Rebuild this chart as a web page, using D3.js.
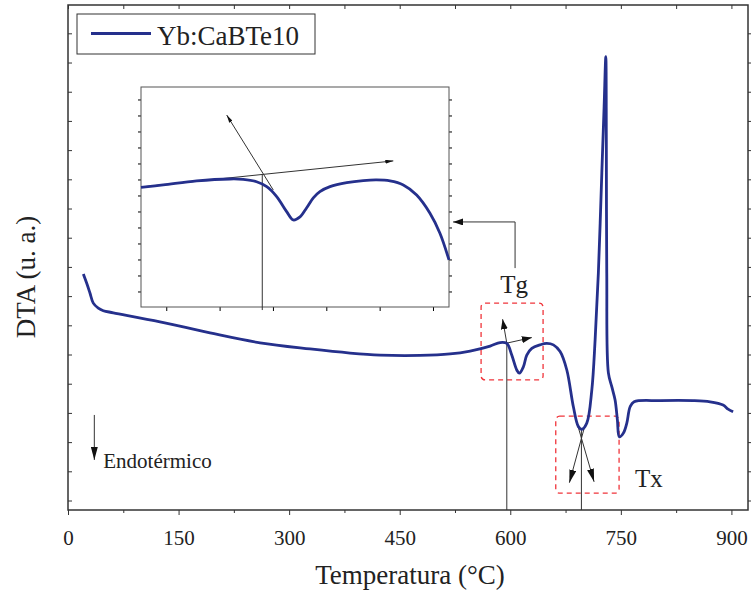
<!DOCTYPE html>
<html>
<head>
<meta charset="utf-8">
<script src="https://cdn.jsdelivr.net/npm/d3@7"></script>
<style>
  body { margin: 0; background: #fff; }
  text { font-family: 'Liberation Serif', 'Times New Roman', serif; fill: #222; }
</style>
</head>
<body>
<script>
// main DTA curve, temperature (°C) and signal (arbitrary units)
const temps = [20.8, 25.4, 29.9, 34.3, 41.1, 47.9, 61.5, 124.8, 192.7, 260.5, 328.4, 382.6, 423.3, 477.6, 518.3,
  545.5, 572.7, 586.2, 595.3,
  602.0, 608.8, 612.3, 617.8, 622.4, 629.2, 640.4, 649.5, 658.5, 667.6, 676.7, 685.6, 692.4, 697.0, 703.8, 710.6,
  715.1, 719.5, 724.2, 727.3, 729.6, 730.3, 730.9, 733.1, 737.7, 742.2, 745.3, 748.0, 753.5, 758.1, 762.6, 768.0,
  803.3, 848.0, 871.1, 888.7, 895.5, 902.3]
const dta = [7.76, 7.44, 7.10, 6.76, 6.59, 6.50, 6.43, 6.12, 5.74, 5.40, 5.19, 5.05, 4.98, 4.97, 5.02,
  5.12, 5.29, 5.41, 5.38,
  4.98, 4.47, 4.36, 4.58, 4.98, 5.21, 5.33, 5.38, 5.33, 5.10, 4.47, 3.21, 2.53, 2.44, 2.65, 3.78,
  5.50, 7.79, 11.22, 13.49, 15.20, 12.35, 7.79, 4.37, 3.90, 3.44, 2.76, 2.18, 2.31, 2.65, 3.21, 3.38,
  3.42, 3.42, 3.38, 3.27, 3.13, 3.04]

// inset: zoom around the glass transition
const insetTemps = [525.8, 538.3, 557.1, 575.8, 583.3, 590.8, 596.5, 602.1, 607.7, 611.4, 615.2, 618.9, 622.7, 626.4,
  632.1, 641.5, 650.8, 658.3, 665.8, 673.3, 680.8, 688.3, 693.9, 699.0]
const insetDta = [6.51, 6.66, 6.91, 7.03, 7.01, 6.86, 6.55, 5.93, 4.99, 4.47, 4.66, 5.22, 5.85, 6.24,
  6.55, 6.80, 6.93, 6.97, 6.91, 6.66, 6.03, 4.89, 3.64, 1.97]

const xTicks = [0, 150, 300, 450, 600, 750, 900]
const xMinor = [75, 225, 375, 525, 675, 825]
const seriesName = 'Yb:CaBTe10'
const tg = 595.3
const tx = 696.5

const width = 752
const height = 597
const blue = '#25308c'
const red = '#f0353b'

const svg = d3.select('body').append('svg')
  .attr('width', width)
  .attr('height', height)

// arrowheads
const defs = svg.append('defs')
function marker (id, len, wid) {
  defs.append('marker')
    .attr('id', id)
    .attr('markerUnits', 'userSpaceOnUse')
    .attr('viewBox', '0 0 ' + len + ' ' + wid)
    .attr('refX', len).attr('refY', wid / 2)
    .attr('markerWidth', len).attr('markerHeight', wid)
    .attr('orient', 'auto')
    .append('path')
    .attr('d', 'M0,0L' + len + ',' + wid / 2 + 'L0,' + wid + 'Z')
    .attr('fill', '#111')
}
marker('big', 13, 7)
marker('mid', 10, 7)
marker('small', 8, 4)

const x = d3.scaleLinear().domain([0, 922.5]).range([68, 748])
const y = d3.scaleLinear().domain([-0.325, 16.97]).range([510, 5])

// axes
svg.append('g')
  .attr('transform', 'translate(0,510)')
  .call(d3.axisBottom(x).tickValues(xTicks).tickSize(5).tickSizeOuter(0).tickPadding(15))
  .call(g => g.select('.domain').remove())
  .call(g => g.selectAll('text').attr('font-size', 21).attr('font-family', null))
svg.append('g')
  .attr('transform', 'translate(0,510)')
  .call(d3.axisBottom(x).tickValues(xMinor).tickSize(3).tickFormat(''))
  .call(g => g.select('.domain').remove())
svg.append('g')
  .attr('transform', 'translate(0,5)')
  .call(d3.axisTop(x).tickValues(xTicks.concat(xMinor)).tickSize(-4).tickFormat(''))
  .call(g => g.select('.domain').remove())
svg.append('g')
  .attr('transform', 'translate(68,0)')
  .call(d3.axisLeft(y).tickValues(d3.range(0, 17)).tickSize(-4).tickFormat(''))
  .call(g => g.select('.domain').remove())
svg.append('g')
  .attr('transform', 'translate(748,0)')
  .call(d3.axisRight(y).tickValues(d3.range(0, 17)).tickSize(3).tickFormat(''))
  .call(g => g.select('.domain').remove())
svg.selectAll('.tick line').attr('stroke', '#333')

svg.append('rect')
  .attr('x', 68).attr('y', 5).attr('width', 680).attr('height', 505)
  .attr('fill', 'none').attr('stroke', '#333').attr('stroke-width', 1.5)

// axis titles
svg.append('text')
  .attr('x', 410).attr('y', 584)
  .attr('text-anchor', 'middle')
  .attr('font-size', 27)
  .text('Temperatura (°C)')
svg.append('text')
  .attr('transform', 'translate(35,277) rotate(-90)')
  .attr('text-anchor', 'middle')
  .attr('font-size', 27)
  .text('DTA (u. a.)')

function seg (p, q, mk, sc) {
  sc = sc || { x: x, y: y }
  const l = svg.append('line')
    .attr('x1', sc.x(p[0])).attr('y1', sc.y(p[1]))
    .attr('x2', sc.x(q[0])).attr('y2', sc.y(q[1]))
    .attr('stroke', '#333').attr('stroke-width', 1)
  if (mk) l.attr('marker-end', 'url(#' + mk + ')')
  return l
}
function box (t0, t1, u0, u1) {
  svg.append('rect')
    .attr('x', x(t0)).attr('y', y(u0))
    .attr('width', x(t1) - x(t0)).attr('height', y(u1) - y(u0))
    .attr('rx', 4)
    .attr('fill', 'none').attr('stroke', red)
    .attr('stroke-width', 1.3).attr('stroke-dasharray', '5,4')
}

// Tg marker
box(560.4, 644.5, 6.76, 4.13)
seg([tg, 5.39], [tg, -0.325])
seg([tg, 5.39], [589.6, 6.21], 'mid')
seg([tg, 5.39], [629.2, 5.58], 'mid')
svg.append('text')
  .attr('x', x(605.2)).attr('y', y(7.1))
  .attr('text-anchor', 'middle').attr('font-size', 25)
  .text('Tg')
svg.append('path')
  .attr('d', d3.line()([[x(606.5), y(7.96)], [x(606.5), y(9.54)], [x(522.4), y(9.54)]]))
  .attr('fill', 'none').attr('stroke', '#333').attr('stroke-width', 1)
  .attr('marker-end', 'url(#mid)')

// Tx marker
box(661.7, 747.6, 2.89, 0.25)
seg([tx, 2.44], [tx, -0.325])
seg([701.5, 2.59], [680.2, 0.61], 'big')
seg([691.3, 2.59], [713.7, 0.64], 'big')
svg.append('text')
  .attr('x', x(769.3)).attr('y', y(0.46))
  .attr('font-size', 25)
  .text('Tx')

// endothermic direction
seg([35.7, 2.93], [35.7, 1.39], 'big')
svg.append('text')
  .attr('x', x(47.9)).attr('y', y(1.11))
  .attr('font-size', 21)
  .text('Endotérmico')

// curve
const line = d3.line()
  .x(function (d, i) { return x(temps[i]) })
  .y(function (d) { return y(d) })
  .curve(d3.curveCatmullRom.alpha(0.5))
svg.append('path')
  .attr('d', line(dta))
  .attr('fill', 'none').attr('stroke', blue).attr('stroke-width', 2.8)
  .attr('stroke-linejoin', 'round')

// legend
svg.append('rect')
  .attr('x', 77).attr('y', 14).attr('width', 238).attr('height', 40)
  .attr('fill', '#fff').attr('stroke', '#333').attr('stroke-width', 1)
svg.append('line')
  .attr('x1', 91).attr('x2', 151).attr('y1', 33.5).attr('y2', 33.5)
  .attr('stroke', blue).attr('stroke-width', 2.8)
svg.append('text')
  .attr('x', 157).attr('y', 45).attr('font-size', 27)
  .text(seriesName)

// inset
const ix = d3.scaleLinear().domain([525.8, 699]).range([141, 449])
const iy = d3.scaleLinear().domain([-0.97, 12.78]).range([307, 87])
svg.append('rect')
  .attr('x', 141).attr('y', 87).attr('width', 308).attr('height', 220)
  .attr('fill', '#fff')
svg.append('g')
  .attr('transform', 'translate(0,307)')
  .call(d3.axisBottom(ix).tickValues(d3.range(540, 699, 30)).tickSize(4).tickFormat(''))
  .call(g => g.select('.domain').remove())
svg.append('g')
  .attr('transform', 'translate(141,0)')
  .call(d3.axisLeft(iy).tickValues(d3.range(0, 13)).tickSize(3).tickFormat(''))
  .call(g => g.select('.domain').remove())
svg.append('g')
  .attr('transform', 'translate(449,0)')
  .call(d3.axisRight(iy).tickValues(d3.range(0, 13)).tickSize(3).tickFormat(''))
  .call(g => g.select('.domain').remove())
svg.append('rect')
  .attr('x', 141).attr('y', 87).attr('width', 308).attr('height', 220)
  .attr('fill', 'none').attr('stroke', '#555').attr('stroke-width', 1)

const isc = { x: ix, y: iy }
seg([525.8, 6.53], [667.7, 8.16], 'small', isc)
seg([600.2, 6.34], [574.0, 11.03], 'small', isc)
seg([594, 7.28], [594, -1.16], null, isc)

const iline = d3.line()
  .x(function (d, i) { return ix(insetTemps[i]) })
  .y(function (d) { return iy(d) })
  .curve(d3.curveCatmullRom.alpha(0.5))
svg.append('path')
  .attr('d', iline(insetDta))
  .attr('fill', 'none').attr('stroke', blue).attr('stroke-width', 2.8)
</script>
</body>
</html>
